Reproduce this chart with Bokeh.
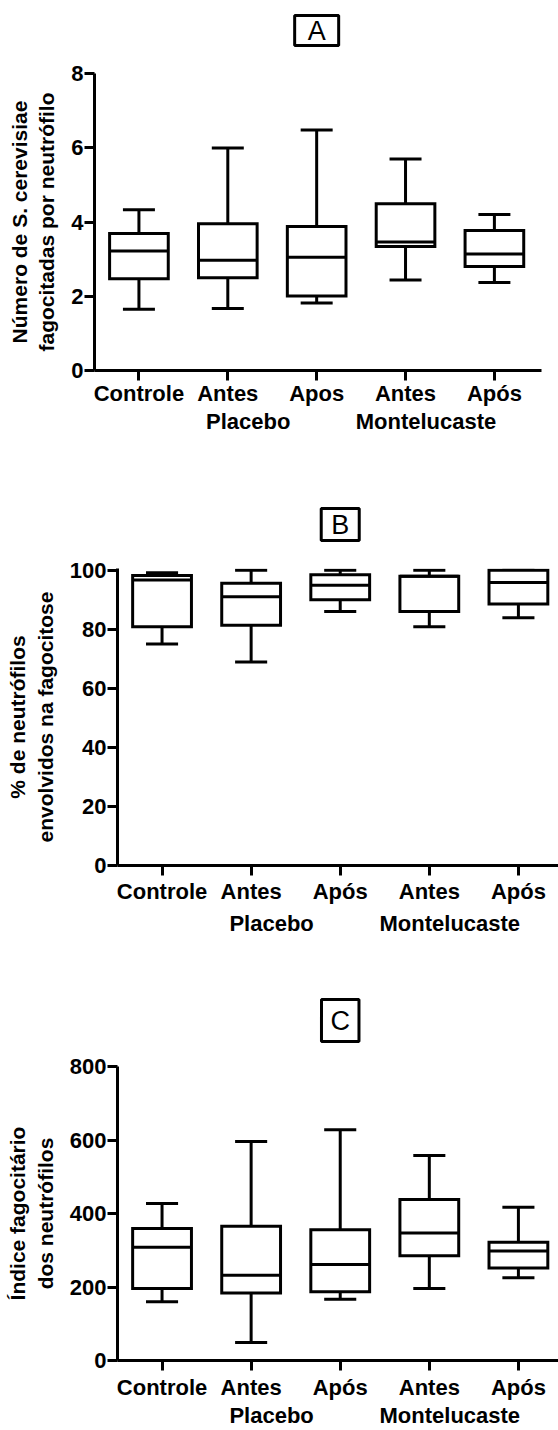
from bokeh.plotting import figure
from bokeh.models import FixedTicker, LinearAxis, Range1d, ColumnDataSource, Label
from bokeh.embed import file_html
from bokeh.resources import INLINE

# ---------------- data ----------------
categories_a = ["Controle", "Antes", "Apos", "Antes", "Após"]
categories_bc = ["Controle", "Antes", "Após", "Antes", "Após"]
groups = ["", "Placebo", "Placebo", "Montelucaste", "Montelucaste"]

# Panel A: number of S. cerevisiae phagocytosed per neutrophil
a_max = [4.33, 5.99, 6.48, 5.70, 4.20]
a_q3 = [3.69, 3.95, 3.88, 4.49, 3.77]
a_med = [3.22, 2.97, 3.05, 3.46, 3.14]
a_q1 = [2.47, 2.50, 2.01, 3.34, 2.80]
a_min = [1.65, 1.67, 1.82, 2.44, 2.37]
a_yticks = [0, 2, 4, 6, 8]

# Panel B: % neutrophils involved in phagocytosis
b_max = [99.2, 100.0, 100.0, 100.0, 100.0]
b_q3 = [98.2, 95.6, 98.5, 98.0, 100.0]
b_med = [96.7, 91.0, 94.9, 98.0, 95.9]
b_q1 = [80.9, 81.4, 90.0, 86.0, 88.6]
b_min = [75.0, 68.9, 86.0, 80.9, 83.9]
b_yticks = [0, 20, 40, 60, 80, 100]

# Panel C: phagocytic index
c_max = [427, 596, 628, 558, 417]
c_q3 = [359, 365, 356, 438, 322]
c_med = [308, 232, 261, 347, 298]
c_q1 = [196, 184, 187, 285, 252]
c_min = [160, 49, 167, 196, 225]
c_yticks = [0, 200, 400, 600, 800]

# ---------------- style ----------------
FONT = "Liberation Sans"
LW = 3
BOX_W = 0.66
CAP_W = 0.36
GROUP_SHIFT = 0.27
WIDTH = 558


def make_letter(letter, n_cats, x_end, b_left, b_right, height, center_from_top, pad):
    p = figure(width=WIDTH, height=height, title=None,
               x_range=Range1d(-0.5, x_end), y_range=Range1d(0, height),
               x_axis_location=None, y_axis_location=None,
               output_backend="svg", toolbar_location=None,
               min_border_left=b_left, min_border_right=b_right,
               min_border_top=0, min_border_bottom=0)
    p.outline_line_color = None
    p.grid.visible = False
    p.background_fill_color = "white"
    p.border_fill_color = "white"
    mid = (n_cats - 1) // 2
    p.add_layout(Label(x=mid, y=height - center_from_top, text=letter,
                       text_align="center", text_baseline="middle",
                       text_font=FONT, text_font_size="27px", text_color="black",
                       border_line_color="black", border_line_width=LW,
                       background_fill_color="white", padding=pad))
    return p


def make_panel(cats, vmax, q3, med, q1, vmin, yticks, ytitle,
               height, y_end, x_end, b_left, b_right, b_top, b_bottom, s1, s2):
    p = figure(width=WIDTH, height=height, title=None,
               x_range=Range1d(-0.5, x_end), y_range=Range1d(0, y_end),
               output_backend="svg", toolbar_location=None,
               min_border_left=b_left, min_border_right=b_right,
               min_border_top=b_top, min_border_bottom=b_bottom)
    p.outline_line_color = None
    p.xgrid.visible = False
    p.ygrid.visible = False
    p.background_fill_color = "white"
    p.border_fill_color = "white"

    x = list(range(len(cats)))
    src = ColumnDataSource(dict(
        x=x, vmax=vmax, q3=q3, med=med, q1=q1, vmin=vmin,
        cl=[i - CAP_W / 2 for i in x], cr=[i + CAP_W / 2 for i in x],
        bl=[i - BOX_W / 2 for i in x], br=[i + BOX_W / 2 for i in x],
    ))
    kw = dict(source=src, line_color="black", line_width=LW, line_cap="butt")
    p.segment(x0="x", y0="q3", x1="x", y1="vmax", **kw)
    p.segment(x0="x", y0="q1", x1="x", y1="vmin", **kw)
    p.segment(x0="cl", y0="vmax", x1="cr", y1="vmax", **kw)
    p.segment(x0="cl", y0="vmin", x1="cr", y1="vmin", **kw)
    p.vbar(x="x", width=BOX_W, top="q3", bottom="q1", source=src,
           fill_color="white", line_color="black", line_width=LW,
           line_join="miter")
    p.segment(x0="bl", y0="med", x1="br", y1="med", **kw)

    # y axis
    ya = p.yaxis[0]
    ya.ticker = FixedTicker(ticks=yticks)
    ya.axis_line_width = LW
    ya.major_tick_line_width = LW
    ya.major_tick_out = 10
    ya.major_tick_in = 0
    ya.minor_tick_line_color = None
    ya.major_label_standoff = 1
    ya.major_label_text_font = FONT
    ya.major_label_text_font_style = "bold"
    ya.major_label_text_font_size = "22px"
    ya.major_label_text_color = "black"
    ya.axis_label = ytitle
    ya.axis_label_standoff = 10
    ya.axis_label_text_font = FONT
    ya.axis_label_text_font_style = "bold"
    ya.axis_label_text_font_size = "21px"
    ya.axis_label_text_color = "black"

    # x axis (categories)
    xa = p.xaxis[0]
    xa.ticker = FixedTicker(ticks=x)
    xa.major_label_overrides = {i: c for i, c in zip(x, cats)}
    xa.axis_line_width = LW
    xa.major_tick_line_width = LW
    xa.major_tick_out = 10
    xa.major_tick_in = 0
    xa.minor_tick_line_color = None
    xa.major_label_standoff = s1
    xa.major_label_text_font = FONT
    xa.major_label_text_font_style = "bold"
    xa.major_label_text_font_size = "22px"
    xa.major_label_text_color = "black"

    # second row: group names
    names = []
    for g in groups:
        if g and g not in names:
            names.append(g)
    gpos = []
    for g in names:
        idx = [i for i, gg in enumerate(groups) if gg == g]
        gpos.append(sum(idx) / len(idx) - GROUP_SHIFT)
    ga = LinearAxis(ticker=FixedTicker(ticks=gpos),
                    major_label_overrides={v: g for v, g in zip(gpos, names)},
                    axis_line_color=None, major_tick_line_color=None,
                    minor_tick_line_color=None, major_tick_out=0,
                    major_tick_in=0, major_label_standoff=s2,
                    major_label_text_font=FONT,
                    major_label_text_font_style="bold",
                    major_label_text_font_size="22px",
                    major_label_text_color="black")
    p.add_layout(ga, "below")
    return p


la = make_letter("A", len(categories_a), 4.53, 94, 17, 60, 30, (13, 0))
pa = make_panel(categories_a, a_max, a_q3, a_med, a_q1, a_min, a_yticks,
                "Número de S. cerevisiae\nfagocitadas por neutrófilo",
                height=420, y_end=8, x_end=4.53, b_left=94, b_right=17,
                b_top=13, b_bottom=110, s1=0, s2=0)
lb = make_letter("B", len(categories_bc), 4.45, 117, 0, 72, 44, (10, 1))
pb = make_panel(categories_bc, b_max, b_q3, b_med, b_q1, b_min, b_yticks,
                "% de neutrófilos\nenvolvidos na fagocitose",
                height=408, y_end=100.6, x_end=4.45, b_left=117, b_right=0,
                b_top=16, b_bottom=95, s1=3, s2=4)
lc = make_letter("C", len(categories_bc), 4.45, 117, 0, 90, 60, (9, 6))
pc = make_panel(categories_bc, c_max, c_q3, c_med, c_q1, c_min, c_yticks,
                "Índice fagocitário\ndos neutrófilos",
                height=380, y_end=800, x_end=4.45, b_left=117, b_right=0,
                b_top=16, b_bottom=68, s1=4, s2=0)

open("out.html", "w").write(file_html([la, pa, lb, pb, lc, pc], INLINE))
